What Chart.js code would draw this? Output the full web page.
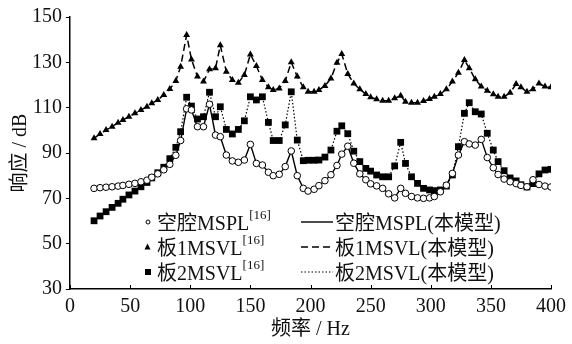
<!DOCTYPE html>
<html>
<head>
<meta charset="utf-8">
<script src="https://cdn.jsdelivr.net/npm/chart.js@4.4.1/dist/chart.umd.min.js"></script>
<style>
  html, body { margin: 0; padding: 0; background: #fff; }
  #wrap { position: relative; width: 572px; height: 344px; }
  canvas { display: block; }
  .legend {
    position: absolute;
    font-family: "Liberation Serif", "Noto Sans CJK SC", serif;
    font-size: 20px;
    color: #111;
  }
  .row { display: flex; align-items: center; height: 25px; white-space: nowrap; }
  .row sup { font-size: 13px; position: relative; top: -7px; vertical-align: baseline; }
  .mk { width: 9px; height: 10px; margin-right: 5px; display: flex; align-items: center; justify-content: center; }
  .sample { margin-right: 2px; }
</style>
</head>
<body>
<div id="wrap">
  <canvas id="chart" width="572" height="344"></canvas>

  <div class="legend" style="left:143px; top:209px;">
    <div class="row"><span class="mk"><svg width="6" height="6"><circle cx="3" cy="3" r="2" fill="#fff" stroke="#000" stroke-width="1"/></svg></span>空腔MSPL<sup>[16]</sup></div>
    <div class="row"><span class="mk"><svg width="7" height="7"><polygon points="3.5,0.5 6.5,6.5 0.5,6.5" fill="#000"/></svg></span>板1MSVL<sup>[16]</sup></div>
    <div class="row"><span class="mk"><svg width="6" height="6"><rect x="0" y="0" width="6" height="6" fill="#000"/></svg></span>板2MSVL<sup>[16]</sup></div>
  </div>

  <div class="legend" style="left:301px; top:209px;">
    <div class="row"><svg class="sample" width="32" height="4"><line x1="0" y1="2" x2="32" y2="2" stroke="#000" stroke-width="1.4"/></svg>空腔MSPL(本模型)</div>
    <div class="row"><svg class="sample" width="32" height="4"><line x1="0" y1="2" x2="32" y2="2" stroke="#000" stroke-width="1.5" stroke-dasharray="7,4"/></svg>板1MSVL(本模型)</div>
    <div class="row"><svg class="sample" width="32" height="4"><line x1="0" y1="2" x2="32" y2="2" stroke="#000" stroke-width="1.2" stroke-dasharray="1.5,2"/></svg>板2MSVL(本模型)</div>
  </div>
</div>

<script>
// frequency points (Hz)
const freq = [20, 25, 30, 35, 40, 44, 49, 54, 59, 64,
  68, 73, 78, 83, 88, 92, 97, 101, 106, 111,
  116, 121, 125, 130, 135, 140, 145, 150, 155, 160,
  165, 169, 174, 179, 184, 189, 194, 198, 203, 207,
  212, 217, 222, 226, 231, 236, 241, 246, 250, 255,
  260, 265, 270, 275, 279, 284, 289, 294, 299, 303,
  308, 313, 318, 323, 328, 332, 337, 342, 347, 352,
  356, 361, 366, 371, 375, 380, 385, 390, 395, 400];

// 空腔MSPL [16]
const cavity = [74.4, 74.7, 74.9, 75.1, 75.4, 75.7, 76.2, 76.6, 77.3, 78,
  79.3, 80.8, 82.6, 85, 89, 95.5, 109.5, 109, 101.6, 101.6,
  111.5, 97.9, 97.2, 89.1, 86.5, 85.9, 86.9, 93.8, 85.4, 84.7,
  81.5, 80, 80.6, 84, 90.9, 80, 74.4, 73.2, 74, 75.6,
  77.8, 80.4, 84.5, 89.5, 93, 85.5, 80.8, 78.2, 76.4, 75.5,
  74.4, 72, 70.2, 74.4, 72.2, 70.8, 70.2, 70, 70.2, 70.8,
  72.9, 75.8, 81, 89.1, 95, 94, 93.5, 96, 88, 83.5,
  80.5, 78.5, 77.3, 76.5, 75.7, 75.1, 78.2, 76.1, 75.4, 75];

// 板1MSVL [16]
const plate1 = [96.5, 98.4, 100.1, 101.6, 103.4, 104.6, 106, 107.5, 109, 110.4,
  111.9, 113.4, 115.6, 118.2, 121.8, 128.1, 142.1, 131.3, 123.7, 121.5,
  126.9, 127.4, 137.5, 125.9, 122.2, 121, 124.4, 133.5, 128.4, 122.2,
  119, 117.8, 118.5, 121.8, 130, 123.7, 119, 117, 117, 117.8,
  119.6, 122.9, 129.8, 133.7, 124.9, 120.7, 118.1, 116, 114.6, 113.7,
  113.1, 113.1, 114.1, 115.3, 112.6, 112.2, 112.2, 112.9, 113.8, 114.8,
  116, 118.1, 121.5, 125.4, 131, 127.4, 122.5, 119.3, 117.5, 115.9,
  114.8, 114.8, 116.6, 120.4, 119, 117, 118.1, 120.7, 119.3, 119];

// 板2MSVL [16]
const plate2 = [60.1, 62.2, 64.1, 66, 67.8, 69.6, 71.5, 73.2, 75.1, 77,
  79, 81.3, 83.7, 87.5, 92.5, 99.4, 114.6, 110.7, 105, 106,
  116.8, 106, 110.4, 100.4, 98.4, 100.4, 104.2, 114.8, 113.4, 114.8,
  103.5, 95.5, 95.5, 102.4, 117, 95.7, 86.6, 86.8, 86.8, 86.9,
  88.2, 91.3, 99.6, 102, 98.5, 90.8, 86.2, 83.2, 82, 80.3,
  79.5, 79.5, 84.3, 94.7, 85.4, 79.5, 76.6, 74.4, 73.7, 73.4,
  73.7, 75.4, 80.3, 92.8, 107.5, 112.2, 108.2, 107.2, 98.7, 91.3,
  86.2, 82.2, 79, 77.7, 76, 75, 76.5, 80.8, 82.5, 82.8];

const toPoints = (vals) => freq.map((f, i) => ({ x: f, y: vals[i] }));

const serif = "'Liberation Serif', 'Noto Sans CJK SC', serif";

// x ticks point up into the plot
const innerTicks = {
  id: "innerTicks",
  afterDraw(chart) {
    const { ctx, scales } = chart;
    const x = scales.x, y = scales.y;
    ctx.save();
    ctx.strokeStyle = "#000";
    ctx.lineWidth = 1;
    x.ticks.forEach((t) => {
      const px = Math.round(x.getPixelForValue(t.value)) + 0.5;
      ctx.beginPath();
      ctx.moveTo(px, y.bottom);
      ctx.lineTo(px, y.bottom - 4);
      ctx.stroke();
    });
    ctx.restore();
  },
};

new Chart(document.getElementById("chart"), {
  type: "line",
  data: {
    datasets: [
      {
        label: "空腔MSPL[16]",
        data: toPoints(cavity),
        showLine: false,
        pointStyle: "circle",
        pointRadius: 3.3,
        pointBackgroundColor: "#fff",
        pointBorderColor: "#000",
        pointBorderWidth: 1,
        order: 0,
      },
      {
        label: "板1MSVL[16]",
        data: toPoints(plate1),
        showLine: false,
        pointStyle: "triangle",
        pointRadius: 4,
        pointBackgroundColor: "#000",
        pointBorderColor: "#000",
        pointBorderWidth: 0,
        order: 0,
      },
      {
        label: "板2MSVL[16]",
        data: toPoints(plate2),
        showLine: false,
        pointStyle: "rect",
        pointRadius: 4.8,
        pointBackgroundColor: "#000",
        pointBorderColor: "#000",
        pointBorderWidth: 0,
        order: 0,
      },
      {
        label: "空腔MSPL(本模型)",
        data: toPoints(cavity),
        borderColor: "#000",
        borderWidth: 1.4,
        pointRadius: 0,
        fill: false,
        order: 1,
      },
      {
        label: "板1MSVL(本模型)",
        data: toPoints(plate1),
        borderColor: "#000",
        borderWidth: 1.5,
        borderDash: [7, 4],
        pointRadius: 0,
        fill: false,
        order: 1,
      },
      {
        label: "板2MSVL(本模型)",
        data: toPoints(plate2),
        borderColor: "#000",
        borderWidth: 1.2,
        borderDash: [1.5, 2],
        pointRadius: 0,
        fill: false,
        order: 1,
      },
    ],
  },
  options: {
    responsive: false,
    animation: false,
    layout: { padding: { left: 0, right: 16, top: 17, bottom: 0 } },
    plugins: {
      legend: { display: false },
      tooltip: { enabled: false },
    },
    scales: {
      x: {
        type: "linear",
        min: 0,
        max: 400,
        afterFit: (s) => { s.height = 55; },
        ticks: {
          stepSize: 50,
          padding: 6,
          color: "#111",
          font: { family: serif, size: 20 },
        },
        grid: { drawOnChartArea: false, drawTicks: false },
        border: { color: "#000", width: 1.5 },
        title: {
          display: true,
          text: "频率 / Hz",
          color: "#111",
          font: { family: serif, size: 20 },
          padding: { top: 0, bottom: 2 },
        },
      },
      y: {
        min: 30,
        max: 150,
        afterFit: (s) => { s.width = 70; },
        ticks: {
          stepSize: 20,
          padding: 4,
          color: "#111",
          font: { family: serif, size: 20 },
        },
        grid: { drawOnChartArea: false, tickLength: 4, color: "#000" },
        border: { color: "#000", width: 1.5 },
        title: {
          display: true,
          text: "响应 / dB",
          color: "#111",
          font: { family: serif, size: 20 },
          padding: { top: 9, bottom: 0 },
        },
      },
    },
  },
  plugins: [innerTicks],
});
</script>
</body>
</html>
